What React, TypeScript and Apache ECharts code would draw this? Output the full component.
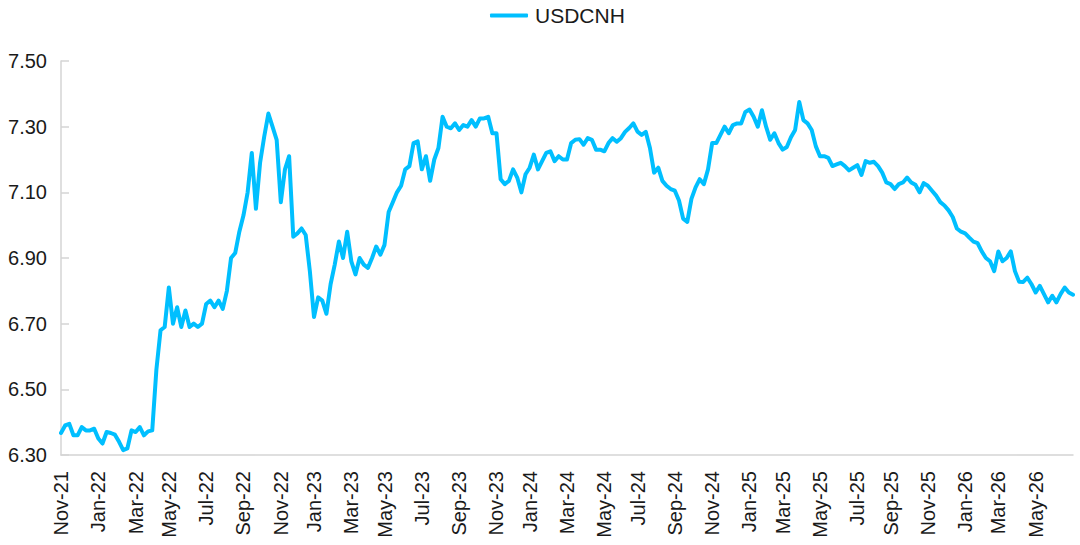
import React, { useEffect, useRef } from "react";
import * as echarts from "echarts";

const SERIES_NAME = "USDCNH";
const START_DATE = "2021-11-01";
const Y_TICKS = { min: 6.3, max: 7.5, interval: 0.2 };
const MONTHS = ["Jan", "Feb", "Mar", "Apr", "May", "Jun", "Jul", "Aug", "Sep", "Oct", "Nov", "Dec"];

// weekly USDCNH readings, Nov-21 onwards
const values2021_2022 = [
  6.367, 6.39, 6.395, 6.36, 6.36, 6.385, 6.375, 6.375, 6.38, 6.35,
  6.335, 6.37, 6.367, 6.362, 6.34, 6.315, 6.32, 6.375, 6.37, 6.385,
  6.36, 6.372, 6.375, 6.56, 6.68, 6.69, 6.81, 6.70, 6.75, 6.69,
  6.74, 6.69, 6.70, 6.69, 6.70, 6.76, 6.77, 6.75, 6.77, 6.745,
  6.80, 6.90, 6.915, 6.98, 7.03, 7.10, 7.22, 7.05, 7.19, 7.27,
  7.34, 7.30, 7.26, 7.07, 7.17, 7.21, 6.965, 6.975, 6.99, 6.97,
  6.86,
];
const values2023 = [
  6.72, 6.78, 6.77, 6.73, 6.82, 6.88, 6.95, 6.90, 6.98, 6.89,
  6.85, 6.90, 6.88, 6.87, 6.90, 6.935, 6.91, 6.94, 7.04, 7.07,
  7.10, 7.12, 7.17, 7.18, 7.25, 7.255, 7.17, 7.21, 7.135, 7.20,
  7.235, 7.33, 7.30, 7.295, 7.31, 7.29, 7.305, 7.30, 7.32, 7.30,
  7.325, 7.325, 7.33, 7.28, 7.28, 7.14, 7.125, 7.135, 7.17, 7.145,
  7.10, 7.155,
];
const values2024 = [
  7.175, 7.215, 7.17, 7.195, 7.22, 7.225, 7.195, 7.21, 7.20, 7.20,
  7.25, 7.26, 7.262, 7.245, 7.265, 7.26, 7.23, 7.23, 7.225, 7.25,
  7.265, 7.254, 7.265, 7.284, 7.296, 7.31, 7.285, 7.275, 7.284, 7.235,
  7.16, 7.175, 7.135, 7.12, 7.11, 7.105, 7.075, 7.02, 7.01, 7.08,
  7.115, 7.14, 7.125, 7.17, 7.25, 7.25, 7.275, 7.30, 7.28, 7.305,
  7.31, 7.31,
];
const values2025 = [
  7.345, 7.352, 7.33, 7.30, 7.35, 7.30, 7.26, 7.28, 7.25, 7.23,
  7.238, 7.268, 7.29, 7.375, 7.32, 7.31, 7.29, 7.24, 7.21, 7.21,
  7.205, 7.18, 7.185, 7.19, 7.18, 7.167, 7.175, 7.183, 7.153, 7.195,
  7.19, 7.193, 7.18, 7.16, 7.13, 7.125, 7.11, 7.125, 7.13, 7.145,
  7.13, 7.123, 7.10, 7.128, 7.12, 7.105, 7.09, 7.07, 7.06, 7.045,
  7.025, 6.99,
];
const values2026 = [
  6.98, 6.975, 6.962, 6.95, 6.945, 6.92, 6.90, 6.89, 6.86, 6.92,
  6.89, 6.90, 6.92, 6.86, 6.828, 6.827, 6.84, 6.82, 6.795, 6.815,
  6.79, 6.765, 6.785, 6.765, 6.79, 6.81, 6.795, 6.788,
];

const values = [...values2021_2022, ...values2023, ...values2024, ...values2025, ...values2026];

function buildDates(start: string, count: number): string[] {
  const t0 = Date.parse(start + "T00:00:00Z");
  const out: string[] = [];
  for (let i = 0; i < count; i++) {
    out.push(new Date(t0 + i * 7 * 86400000).toISOString().slice(0, 10));
  }
  return out;
}

const dates = buildDates(START_DATE, values.length);

function isLabelWeek(index: number, d: string): boolean {
  if (index > dates.length - 6) return false;
  const month = parseInt(d.slice(5, 7), 10);
  const day = parseInt(d.slice(8, 10), 10);
  return day <= 7 && month % 2 === 1;
}

function fmtDate(d: string): string {
  const month = parseInt(d.slice(5, 7), 10);
  return MONTHS[month - 1] + "-" + d.slice(2, 4);
}

const FONT = "'Liberation Sans', Arial, Helvetica, sans-serif";
const LINE_COLOR = "#00BFFF";

export default function App() {
  const ref = useRef<HTMLDivElement | null>(null);
  useEffect(() => {
    if (!ref.current) return;
    const chart = echarts.init(ref.current, undefined, { renderer: "svg" });
    chart.setOption({
      animation: false,
      backgroundColor: "#ffffff",
      textStyle: { fontFamily: FONT },
      legend: {
        data: [{ name: SERIES_NAME, icon: "roundRect" }],
        left: 490,
        top: 5,
        padding: 0,
        itemWidth: 38,
        itemHeight: 4,
        itemGap: 10,
        textStyle: { fontSize: 21, color: "#1a1a1a", fontFamily: FONT, padding: [0, 0, 0, 2] },
      },
      grid: { left: 61, right: 7, top: 61, bottom: 90, containLabel: false },
      xAxis: {
        type: "category",
        data: dates,
        boundaryGap: false,
        axisLine: { show: true, lineStyle: { color: "#d4d4d4", width: 1.5 } },
        axisTick: { show: false },
        splitLine: { show: false },
        axisLabel: {
          rotate: 90,
          margin: 16,
          fontSize: 20,
          color: "#1a1a1a",
          fontFamily: FONT,
          interval: (index: number, value: string) => isLabelWeek(index, value),
          formatter: (v: string) => fmtDate(v),
        },
      },
      yAxis: {
        type: "value",
        min: Y_TICKS.min,
        max: Y_TICKS.max,
        interval: Y_TICKS.interval,
        axisLine: { show: true, lineStyle: { color: "#d4d4d4", width: 1.5 } },
        axisTick: { show: true, inside: true, length: 8, lineStyle: { color: "#d4d4d4", width: 1.5 } },
        splitLine: { show: false },
        axisLabel: {
          margin: 14,
          fontSize: 20,
          color: "#1a1a1a",
          fontFamily: FONT,
          formatter: (v: number) => v.toFixed(2),
        },
      },
      series: [
        {
          name: SERIES_NAME,
          type: "line",
          data: values,
          symbol: "none",
          lineStyle: { color: LINE_COLOR, width: 4, join: "round", cap: "round" },
          itemStyle: { color: LINE_COLOR },
        },
      ],
    });
    return () => chart.dispose();
  }, []);
  return (
    <div
      ref={ref}
      style={{ position: "absolute", left: 0, top: 0, width: 1080, height: 545 }}
    />
  );
}
